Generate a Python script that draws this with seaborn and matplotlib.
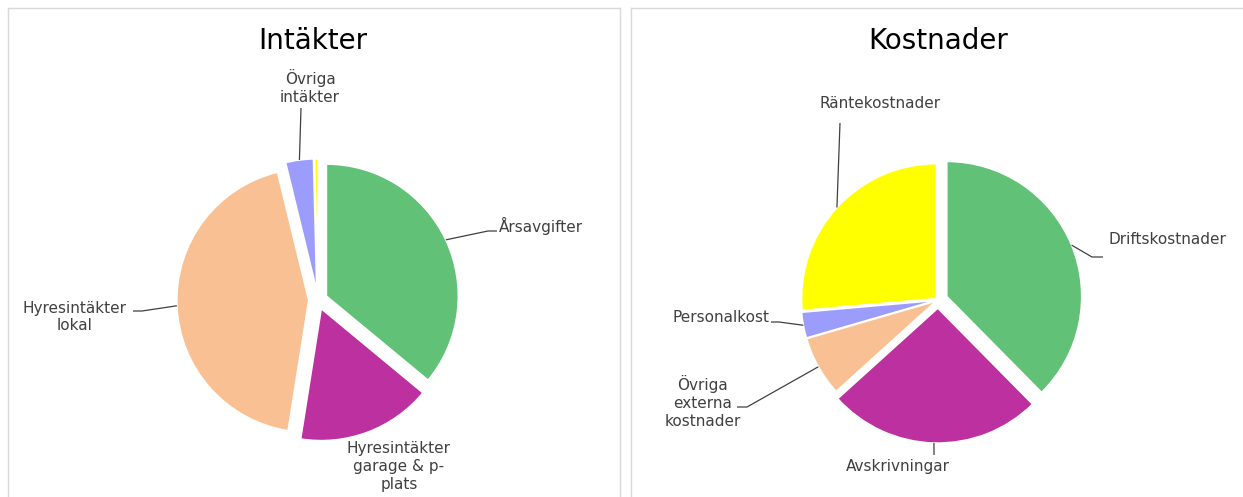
import matplotlib
matplotlib.use("Agg")
import matplotlib.pyplot as plt
import seaborn as sns
import numpy as np

# ---- data ----
inc_labels = ["Årsavgifter", "Hyresintäkter\ngarage & p-\nplats", "Hyresintäkter\nlokal", "Övriga\nintäkter", ""]
inc_values = [36.0, 16.5, 43.7, 3.4, 0.4]
cost_labels = ["Driftskostnader", "Avskrivningar", "Övriga\nexterna\nkostnader", "Personalkost", "Räntekostnader"]
cost_values = [37.6, 25.7, 7.2, 3.1, 26.4]
slice_colors = ["#60C177", "#BC30A0", "#F9C193", "#9C9CFC", "#FFFF00"]

sns.set_theme(style="white")
plt.rcParams["font.family"] = ["DejaVu Sans"]

W, H = 1243, 497
fig = plt.figure(figsize=(W / 100, H / 100), dpi=100)
fig.patch.set_facecolor("white")

LABEL_COLOR = "#404040"


def panel(x0, x1, y0, y1, cx, cy, R, values, labels, explode, title, title_x, specs):
    ax = fig.add_axes([x0 / W, 1 - y1 / H, (x1 - x0) / W, (y1 - y0) / H])
    wedges, _ = ax.pie(values, colors=slice_colors[:len(values)], startangle=90,
                       counterclock=False, explode=explode, radius=1,
                       wedgeprops=dict(edgecolor="white", linewidth=1.2))
    ax.set_aspect("auto")
    ax.set_xlim((x0 - cx) / R, (x1 - cx) / R)
    ax.set_ylim((cy - y1) / R, (cy - y0) / R)
    ax.set_frame_on(True)
    for s in ax.spines.values():
        s.set_visible(True)
        s.set_color("#d9d9d9")
        s.set_linewidth(1.0)

    def d(px, py):
        return ((px - cx) / R, (cy - py) / R)

    ax.text(*d(title_x, 41), title, ha="center", va="center", fontsize=20, color="black")

    for w, lab, spec in zip(wedges, labels, specs):
        if spec is None or lab == "":
            continue
        tx, ty, ha, path = spec
        ax.text(*d(tx, ty), lab, ha=ha, va="center", fontsize=11, color=LABEL_COLOR,
                multialignment="center", linespacing=1.25)
        if path:
            mid = np.deg2rad((w.theta1 + w.theta2) / 2)
            ax0 = w.center[0] + w.r * np.cos(mid)
            ay0 = w.center[1] + w.r * np.sin(mid)
            xs = [ax0] + [d(*p)[0] for p in path]
            ys = [ay0] + [d(*p)[1] for p in path]
            ax.plot(xs, ys, color="#404040", lw=0.9, solid_capstyle="butt")
    return ax


inc_specs = [
    (499, 226, "left", [(488, 231), (497, 231)]),
    (399, 467, "center", None),
    (75, 317, "center", [(142, 311), (133, 311)]),
    (310, 87, "center", [(301, 108)]),
    None,
]
panel(8, 620, 8, 520, 318, 300, 132, inc_values, inc_labels,
      [0.07, 0.07, 0.07, 0.07, 0.07], "Intäkter", 313, inc_specs)

cost_specs = [
    (1108, 240, "left", [(1092, 257), (1103, 257)]),
    (898, 467, "center", [(934, 455)]),
    (703, 402, "center", [(747, 407), (737, 407)]),
    (770, 317, "right", [(779, 322), (771, 322)]),
    (880, 103, "center", [(840, 123)]),
]
panel(631, 1260, 8, 520, 938, 300, 135, cost_values, cost_labels,
      [0.07, 0.06, 0.015, 0.015, 0.015], "Kostnader", 938, cost_specs)

fig.savefig("out.png", dpi=100)
